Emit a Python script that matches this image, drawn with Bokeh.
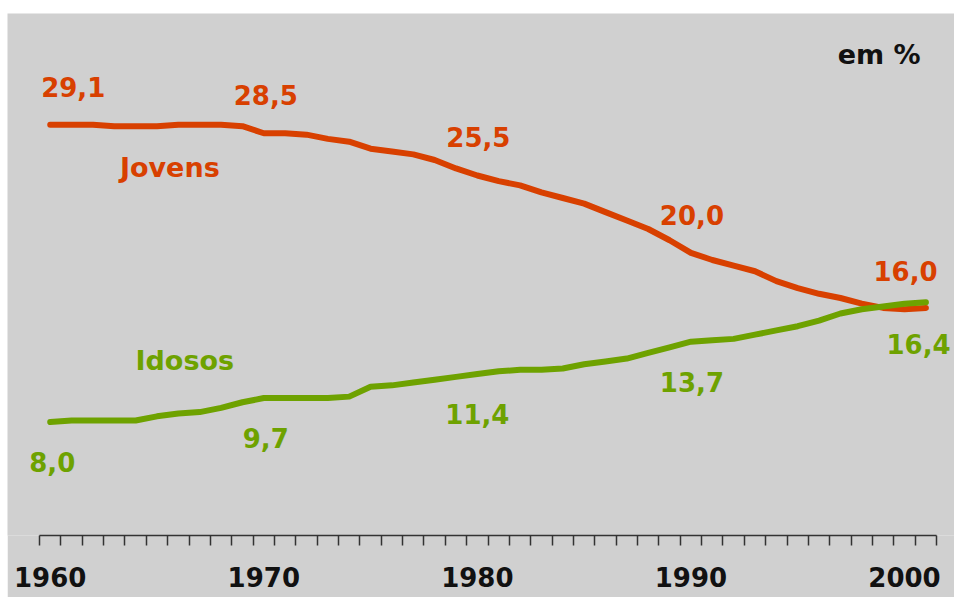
from bokeh.plotting import figure
from bokeh.models import ColumnDataSource, Range1d, LinearAxis, FixedTicker, Label
from bokeh.core.properties import value
from bokeh.embed import file_html
from bokeh.resources import INLINE

# ---- data (percent of population) ----
years = list(range(1960, 2002))
jovens = [29.1, 29.1, 29.1, 29.0, 29.0, 29.0, 29.1, 29.1, 29.1, 29.0,
          28.5, 28.5, 28.4, 28.1, 27.9, 27.4, 27.2, 27.0, 26.6, 26.0,
          25.5, 25.1, 24.8, 24.3, 23.9, 23.5, 22.9, 22.3, 21.7, 20.9,
          20.0, 19.5, 19.1, 18.7, 18.0, 17.5, 17.1, 16.8, 16.4, 16.1,
          16.0, 16.1]
idosos = [8.0, 8.1, 8.1, 8.1, 8.1, 8.4, 8.6, 8.7, 9.0, 9.4,
          9.7, 9.7, 9.7, 9.7, 9.8, 10.5, 10.6, 10.8, 11.0, 11.2,
          11.4, 11.6, 11.7, 11.7, 11.8, 12.1, 12.3, 12.5, 12.9, 13.3,
          13.7, 13.8, 13.9, 14.2, 14.5, 14.8, 15.2, 15.7, 16.0, 16.2,
          16.4, 16.5]
label_years = [1960, 1970, 1980, 1990, 2000]
jovens_labels = ["29,1", "28,5", "25,5", "20,0", "16,0"]
idosos_labels = ["8,0", "9,7", "11,4", "13,7", "16,4"]
tick_years = [1960, 1970, 1980, 1990, 2000]
series_names = ["Jovens", "Idosos"]
unit_text = "em %"

RED = "#D84000"
GREEN = "#6EA200"
BG = "#D0D0D0"
FONT = "DejaVu Sans"

p = figure(width=947, height=584, output_backend="svg", toolbar_location=None,
           x_axis_location=None, y_axis_location=None,
           x_range=Range1d(1958.0, 2002.34), y_range=Range1d(-0.06, 37.0),
           min_border_left=0, min_border_right=0, min_border_top=0, min_border_bottom=62)
p.margin = (13, 0, 0, 7)
p.background_fill_color = BG
p.border_fill_color = BG
p.outline_line_color = None
p.xgrid.visible = False
p.ygrid.visible = False

minor = [y - 0.5 for y in range(1960, 2003)]
xaxis = LinearAxis(ticker=FixedTicker(ticks=tick_years, minor_ticks=minor),
                   bounds=(1959.5, 2001.5),
                   axis_line_color="#333333", axis_line_width=1.5,
                   major_tick_line_color=None, major_tick_out=0, major_tick_in=0,
                   minor_tick_line_color="#333333", minor_tick_line_width=1.5,
                   minor_tick_out=10, minor_tick_in=0,
                   major_label_text_font=FONT, major_label_text_font_style="bold",
                   major_label_text_font_size="26px", major_label_text_color="#111111",
                   major_label_standoff=21)
p.add_layout(xaxis, "below")

p.line(years, jovens, line_color=RED, line_width=6, line_join="round", line_cap="round")
p.line(years, idosos, line_color=GREEN, line_width=6, line_join="round", line_cap="round")

src_j = ColumnDataSource(dict(x=label_years,
                              y=[jovens[years.index(y)] for y in label_years],
                              t=jovens_labels, dx=[23, 2, 1, 1, 1]))
src_i = ColumnDataSource(dict(x=label_years,
                              y=[idosos[years.index(y)] for y in label_years],
                              t=idosos_labels, dx=[2, 2, 0, 1, 14]))
common = dict(text="t", x_offset="dx", text_font=value(FONT), text_font_style="bold",
              text_font_size="26px", text_align="center", text_baseline="alphabetic")
p.text(x="x", y="y", source=src_j, y_offset=-38, text_color=RED, **common)
p.text(x="x", y="y", source=src_i, y_offset=40, text_color=GREEN, **common)

lab_style = dict(text_font=FONT, text_font_style="bold", text_font_size="27px",
                 text_baseline="alphabetic")
p.add_layout(Label(x=1965.6, y=26.1, text=series_names[0], text_color=RED,
                   text_align="center", **lab_style))
p.add_layout(Label(x=1966.3, y=12.35, text=series_names[1], text_color=GREEN,
                   text_align="center", **lab_style))
p.add_layout(Label(x=2000.75, y=34.1, text=unit_text, text_color="#111111",
                   text_align="right", **lab_style))

open("out.html", "w").write(file_html(p, INLINE))
